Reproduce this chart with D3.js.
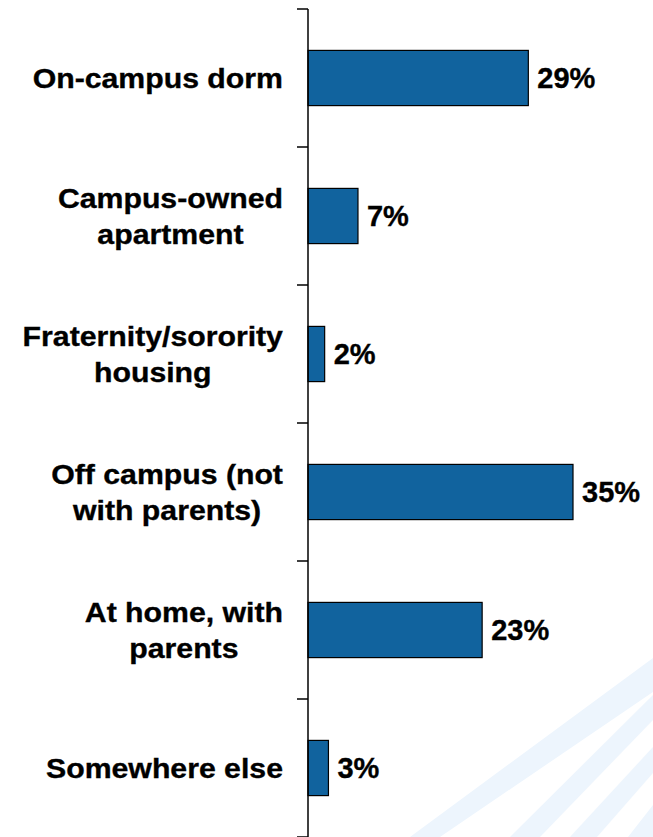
<!DOCTYPE html>
<html>
<head>
<meta charset="utf-8">
<script src="https://cdn.jsdelivr.net/npm/d3@7"></script>
<style>
  html, body { margin: 0; padding: 0; background: #fff; }
  svg { display: block; }
  text { font-family: "Liberation Sans", Arial, sans-serif; font-weight: bold; fill: #000; stroke: #000; stroke-width: 0.35px; }
</style>
</head>
<body>
<script>
const categories = [
  ["On-campus dorm"],
  ["Campus-owned", "apartment"],
  ["Fraternity/sorority", "housing"],
  ["Off campus (not", "with parents)"],
  ["At home, with", "parents"],
  ["Somewhere else"]
];
const values = [29.1, 6.6, 2.2, 35, 23, 2.7];
const valueLabels = ["29%", "7%", "2%", "35%", "23%", "3%"];

const W = 653, H = 837;
const svg = d3.select("body").append("svg").attr("width", W).attr("height", H);

// decorative light stripes (background)
const stripes = [
  [[410,837],[440,837],[653,692],[653,658]],
  [[510,837],[540,837],[653,720],[653,695]],
  [[570,837],[597,837],[653,773],[653,747]],
  [[628,837],[653,837],[653,805]]
];
svg.append("g").selectAll("polygon").data(stripes).join("polygon")
  .attr("points", d => d.map(p => p.join(",")).join(" "))
  .attr("fill", "#edf5fd");

const keys = categories.map((c, i) => i);
const y = d3.scaleBand().domain(keys).range([9, 837]).paddingInner(0.6).paddingOuter(0.3);
const x = d3.scaleLinear().domain([0, 35]).range([308, 573]);

// bars
svg.append("g").selectAll("rect").data(values).join("rect")
  .attr("x", x(0))
  .attr("y", (d, i) => y(i))
  .attr("width", d => x(d) - x(0))
  .attr("height", y.bandwidth())
  .attr("fill", "#11639e")
  .attr("stroke", "#000")
  .attr("stroke-width", 1.2);

// axis line and ticks at band boundaries
const r0 = y.range()[0];
const bounds = d3.range(keys.length + 1).map(i => r0 + y.step() * i);
const ax = svg.append("g");
ax.append("line").attr("x1", x(0)).attr("x2", x(0)).attr("y1", bounds[0]).attr("y2", H)
  .attr("stroke", "#000").attr("stroke-width", 1.5);
ax.selectAll("line.tick").data(bounds).join("line").attr("class", "tick")
  .attr("x1", x(0) - 11).attr("x2", x(0)).attr("y1", d => d).attr("y2", d => d)
  .attr("stroke", "#000").attr("stroke-width", 1.5);

// category labels: lines centred within block, block right-aligned
const fs = 28, lh = 36, sx = 1.08, rightEdge = 283;
const lab = svg.append("g").selectAll("g").data(categories).join("g");
lab.each(function(lines, i) {
  const g = d3.select(this);
  const n = lines.length;
  const texts = lines.map((t, j) => g.append("text")
      .attr("text-anchor", "middle")
      .attr("font-size", fs)
      .attr("y", (j - (n - 1) / 2) * lh + fs * 0.35)
      .text(t));
  const maxW = d3.max(texts, t => t.node().getComputedTextLength()) * sx;
  g.attr("transform", `translate(${rightEdge - maxW / 2},${y(i) + y.bandwidth() / 2}) scale(${sx},1)`);
});

// value labels
svg.append("g").selectAll("text").data(values).join("text")
  .attr("x", d => x(d) + 9)
  .attr("y", (d, i) => y(i) + y.bandwidth() / 2 + 10)
  .attr("font-size", 29)
  .text((d, i) => valueLabels[i]);
</script>
</body>
</html>
